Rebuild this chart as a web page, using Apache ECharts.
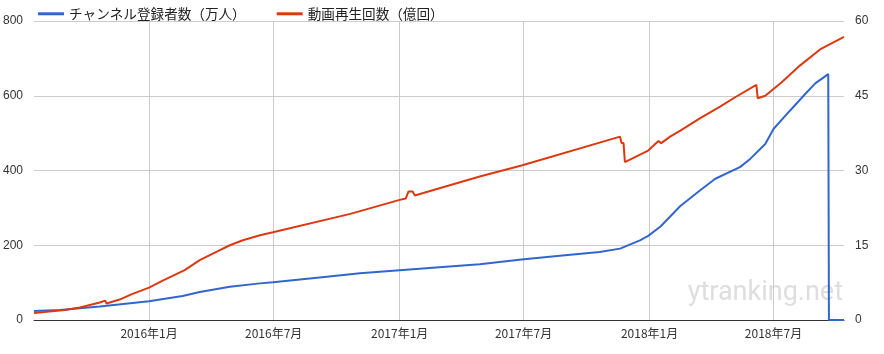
<!DOCTYPE html>
<html><head><meta charset="utf-8">
<script src="https://cdn.jsdelivr.net/npm/echarts@6/dist/echarts.min.js"></script>
<style>html,body{margin:0;padding:0;background:#fff}#c{width:884px;height:354px}</style>
</head><body><div id="c"></div>
<script>
const seriesNames = ['チャンネル登録者数（万人）', '動画再生回数（億回）'];
const subDates = ['2015-07-17','2015-08-24','2015-10-21','2016-01-01','2016-02-19','2016-03-15','2016-04-28','2016-06-11','2016-06-30','2016-09-06','2016-11-04','2017-01-01','2017-02-28','2017-04-28','2017-06-28','2017-08-23','2017-10-20','2017-11-19','2017-12-18','2017-12-30','2018-01-17','2018-02-15','2018-03-16','2018-04-07','2018-05-13','2018-05-28','2018-06-19','2018-07-01','2018-07-25','2018-08-16','2018-08-31','2018-09-19','2018-09-20','2018-10-12'];
const subValues = [24,27,36,50,64,75,89,98,101,114,125,133,141,149,162,172,182,191,213,225,250,305,347,378,409,431,471,511,560,604,633,658,0,0];
const viewDates = ['2015-07-17','2015-08-31','2015-09-22','2015-10-21','2015-10-29','2015-10-31','2015-11-19','2015-12-07','2016-01-01','2016-01-21','2016-02-22','2016-03-15','2016-04-09','2016-04-28','2016-05-17','2016-06-11','2016-06-30','2016-10-21','2017-01-01','2017-01-10','2017-01-14','2017-01-20','2017-01-23','2017-04-28','2017-06-28','2017-11-19','2017-11-21','2017-11-24','2017-11-26','2017-12-30','2018-01-14','2018-01-18','2018-01-31','2018-02-15','2018-03-16','2018-04-14','2018-05-06','2018-06-06','2018-06-08','2018-06-19','2018-07-13','2018-08-09','2018-09-07','2018-10-12'];
const viewValues = [1.4,2.0,2.5,3.5,3.9,3.3,4.1,5.2,6.5,7.9,10,12,13.7,15,16,17,17.6,21.3,24.1,24.4,25.8,25.8,25.0,28.8,31.0,36.8,35.5,35.5,31.7,34,35.9,35.5,36.8,38,40.5,42.8,44.7,47.2,44.5,45,47.7,51.1,54.3,56.8];
const xTicks = ['2016-01-01','2016-07-01','2017-01-01','2017-07-01','2018-01-01','2018-07-01'];
const leftTicks = [0,200,400,600,800];
const rightTicks = [0,15,30,45,60];
const xRange = ['2015-07-17','2018-10-12'];
const watermark = 'ytranking.net';

const ts = s => { const [y,m,d] = s.split('-').map(Number); return Date.UTC(y, m-1, d); };
const tickTs = xTicks.map(ts);
const chart = echarts.init(document.getElementById('c'), null, {renderer:'canvas'});
const labelFont = 'Liberation Sans, Arial, sans-serif';
chart.setOption({
  animation: false,
  textStyle: {fontFamily: '"Noto Sans CJK JP", Liberation Sans, sans-serif'},
  legend: {
    left: 33, top: 2, itemWidth: 26, itemHeight: 3, itemGap: 31, icon: 'rect',
    textStyle: {fontSize: 13.6, color: '#222', fontFamily: '"Noto Sans CJK JP", sans-serif'},
    data: seriesNames
  },
  grid: {left: 34, right: 40, top: 21, bottom: 34, containLabel: false},
  graphic: [{
    type: 'text', right: 41, top: 280, z: 0, silent: true,
    style: {text: watermark, fontSize: 27, fill: '#dedede', fontFamily: 'Roboto, Liberation Sans, sans-serif'}
  }],
  xAxis: {
    type: 'value', min: ts(xRange[0]), max: ts(xRange[1]),
    axisLine: {show: true, lineStyle: {color: '#333', width: 1}},
    axisTick: {show: false, customValues: tickTs},
    axisLabel: {customValues: tickTs, color: '#333', fontSize: 12, fontFamily: '"Noto Sans CJK JP", sans-serif', margin: 7,
      formatter: v => { const d = new Date(v); return d.getUTCFullYear() + '年' + (d.getUTCMonth()+1) + '月'; }},
    splitLine: {show: true, lineStyle: {color: '#ccc', width: 1}}
  },
  yAxis: [{
    type: 'value', min: leftTicks[0], max: leftTicks[leftTicks.length-1], interval: leftTicks[1]-leftTicks[0],
    axisLine: {show: false}, axisTick: {show: false},
    axisLabel: {color: '#333', fontSize: 12, fontFamily: labelFont, margin: 11},
    splitLine: {lineStyle: {color: '#ccc', width: 1}}
  }, {
    type: 'value', min: rightTicks[0], max: rightTicks[rightTicks.length-1], interval: rightTicks[1]-rightTicks[0],
    position: 'right',
    axisLine: {show: false}, axisTick: {show: false},
    axisLabel: {color: '#333', fontSize: 12, fontFamily: labelFont, margin: 11},
    splitLine: {show: false}
  }],
  series: [{
    name: seriesNames[0], type: 'line', yAxisIndex: 0, symbol: 'none', z: 3,
    lineStyle: {color: '#3366cc', width: 2}, itemStyle: {color: '#3366cc'},
    data: subDates.map((d,i) => [ts(d), subValues[i]])
  }, {
    name: seriesNames[1], type: 'line', yAxisIndex: 1, symbol: 'none', z: 4,
    lineStyle: {color: '#dc3912', width: 2}, itemStyle: {color: '#dc3912'},
    data: viewDates.map((d,i) => [ts(d), viewValues[i]])
  }]
});
</script></body></html>
